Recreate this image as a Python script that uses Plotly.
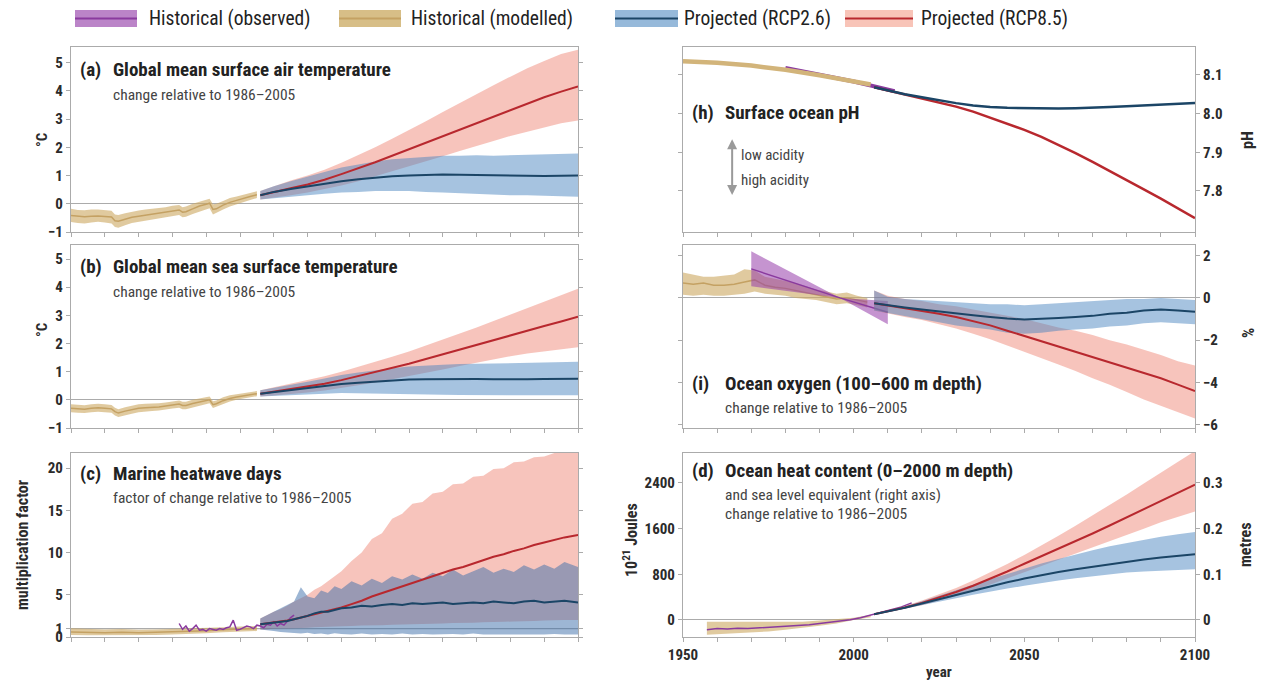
import plotly.graph_objects as go

# ---------------- data ----------------
HIST_YEARS = [1950, 1952, 1954, 1956, 1958, 1960, 1962, 1963, 1964, 1966, 1968, 1970, 1972, 1974, 1976, 1978,
              1980, 1982, 1983, 1984, 1986, 1988, 1990, 1991, 1992, 1993, 1995, 1997, 1999, 2001, 2003, 2005]
PROJ_YEARS = [2006, 2010, 2015, 2020, 2025, 2030, 2035, 2040, 2045, 2050,
              2055, 2060, 2065, 2070, 2075, 2080, 2085, 2090, 2095, 2100]

# (a) global mean surface air temperature (deg C)
A_HIST_MEAN = [-0.42, -0.45, -0.46, -0.44, -0.43, -0.45, -0.47, -0.60, -0.62, -0.55, -0.48, -0.44, -0.40, -0.37, -0.33, -0.30,
               -0.25, -0.22, -0.30, -0.28, -0.18, -0.08, -0.02, 0.02, -0.20, -0.18, -0.05, 0.05, 0.12, 0.20, 0.26, 0.32]
A_HIST_LOW = [-0.65, -0.68, -0.70, -0.66, -0.64, -0.66, -0.70, -0.82, -0.85, -0.76, -0.68, -0.64, -0.60, -0.56, -0.52, -0.48,
              -0.44, -0.40, -0.48, -0.46, -0.36, -0.26, -0.20, -0.16, -0.38, -0.34, -0.20, -0.10, -0.02, 0.06, 0.13, 0.20]
A_HIST_HIGH = [-0.18, -0.22, -0.23, -0.20, -0.20, -0.22, -0.25, -0.38, -0.40, -0.34, -0.28, -0.24, -0.20, -0.18, -0.14, -0.12,
               -0.07, -0.04, -0.12, -0.10, 0.00, 0.08, 0.15, 0.18, -0.02, 0.00, 0.10, 0.20, 0.26, 0.33, 0.38, 0.44]
A_26_MEAN = [0.30, 0.42, 0.52, 0.62, 0.72, 0.80, 0.87, 0.93, 0.97, 1.00, 1.02, 1.04, 1.03, 1.02, 1.00, 1.00, 0.99, 0.98, 0.99, 1.00]
A_26_LOW = [0.15, 0.20, 0.25, 0.30, 0.35, 0.40, 0.42, 0.45, 0.45, 0.45, 0.42, 0.40, 0.38, 0.35, 0.33, 0.30, 0.30, 0.28, 0.27, 0.25]
A_26_HIGH = [0.45, 0.62, 0.80, 0.95, 1.12, 1.28, 1.40, 1.50, 1.58, 1.62, 1.66, 1.70, 1.70, 1.72, 1.70, 1.72, 1.72, 1.75, 1.78, 1.78]
A_85_MEAN = [0.30, 0.42, 0.55, 0.68, 0.85, 1.05, 1.25, 1.47, 1.70, 1.93, 2.17, 2.40, 2.63, 2.87, 3.10, 3.33, 3.55, 3.77, 3.97, 4.15]
A_85_LOW = [0.15, 0.22, 0.30, 0.40, 0.52, 0.65, 0.80, 0.97, 1.15, 1.32, 1.50, 1.68, 1.87, 2.05, 2.22, 2.40, 2.55, 2.70, 2.85, 2.95]
A_85_HIGH = [0.45, 0.62, 0.82, 1.00, 1.20, 1.45, 1.72, 2.00, 2.30, 2.60, 2.92, 3.25, 3.57, 3.90, 4.20, 4.50, 4.80, 5.05, 5.30, 5.45]

# (b) global mean sea surface temperature (deg C)
B_HIST_MEAN = [-0.30, -0.32, -0.33, -0.30, -0.28, -0.30, -0.32, -0.42, -0.47, -0.40, -0.35, -0.30, -0.28, -0.27, -0.25, -0.22,
               -0.18, -0.15, -0.20, -0.20, -0.13, -0.07, -0.03, 0.00, -0.17, -0.14, -0.03, 0.05, 0.10, 0.14, 0.19, 0.22]
B_HIST_LOW = [-0.44, -0.46, -0.47, -0.44, -0.42, -0.44, -0.46, -0.56, -0.61, -0.54, -0.49, -0.44, -0.42, -0.40, -0.38, -0.35,
              -0.31, -0.28, -0.33, -0.33, -0.26, -0.19, -0.15, -0.12, -0.29, -0.26, -0.15, -0.06, 0.00, 0.04, 0.09, 0.13]
B_HIST_HIGH = [-0.16, -0.18, -0.19, -0.16, -0.14, -0.16, -0.18, -0.28, -0.33, -0.26, -0.21, -0.16, -0.14, -0.14, -0.12, -0.09,
               -0.05, -0.02, -0.07, -0.07, 0.00, 0.05, 0.09, 0.12, -0.05, -0.02, 0.09, 0.16, 0.20, 0.24, 0.29, 0.31]
B_26_MEAN = [0.22, 0.28, 0.35, 0.42, 0.50, 0.56, 0.61, 0.65, 0.69, 0.72, 0.73, 0.74, 0.74, 0.74, 0.73, 0.72, 0.73, 0.74, 0.74, 0.75]
B_26_LOW = [0.12, 0.14, 0.17, 0.20, 0.22, 0.24, 0.24, 0.24, 0.22, 0.20, 0.19, 0.18, 0.17, 0.16, 0.16, 0.15, 0.15, 0.15, 0.16, 0.16]
B_26_HIGH = [0.34, 0.42, 0.53, 0.64, 0.76, 0.88, 0.97, 1.05, 1.12, 1.18, 1.22, 1.25, 1.27, 1.28, 1.29, 1.30, 1.30, 1.31, 1.33, 1.35]
B_85_MEAN = [0.22, 0.29, 0.38, 0.47, 0.57, 0.70, 0.84, 0.98, 1.13, 1.28, 1.45, 1.62, 1.78, 1.95, 2.12, 2.30, 2.47, 2.62, 2.78, 2.95]
B_85_LOW = [0.12, 0.15, 0.20, 0.26, 0.33, 0.42, 0.52, 0.62, 0.73, 0.84, 0.96, 1.08, 1.20, 1.32, 1.44, 1.55, 1.65, 1.73, 1.80, 1.87]
B_85_HIGH = [0.34, 0.44, 0.57, 0.70, 0.84, 1.00, 1.17, 1.35, 1.53, 1.72, 1.93, 2.14, 2.35, 2.57, 2.80, 3.03, 3.27, 3.50, 3.72, 3.95]

# (c) marine heatwave days (multiplication factor)
C_HIST_YEARS = [1950, 1955, 1960, 1965, 1970, 1975, 1980, 1985, 1990, 1995, 2000, 2005]
C_HIST_MEAN = [0.60, 0.55, 0.50, 0.55, 0.50, 0.55, 0.60, 0.65, 0.75, 0.85, 0.95, 1.00]
C_HIST_LOW = [0.25, 0.22, 0.20, 0.25, 0.22, 0.25, 0.30, 0.35, 0.45, 0.55, 0.65, 0.70]
C_HIST_HIGH = [1.05, 0.95, 0.90, 0.95, 0.85, 0.90, 0.95, 1.00, 1.05, 1.15, 1.25, 1.30]
C_OBS_YEARS = [1982, 1983, 1984, 1985, 1986, 1987, 1988, 1989, 1990, 1991, 1992, 1993, 1994, 1995, 1996, 1997, 1998,
               1999, 2000, 2001, 2002, 2003, 2004, 2005, 2006, 2007, 2008, 2009, 2010, 2011, 2012, 2013, 2014, 2015, 2016]
C_OBS = [1.6, 0.9, 1.3, 0.7, 1.0, 1.4, 0.8, 0.9, 0.7, 1.0, 0.9, 0.8, 1.0, 0.9, 1.1, 1.2, 2.0,
         0.8, 0.9, 1.1, 1.3, 1.2, 1.0, 1.4, 1.3, 1.1, 1.5, 1.4, 1.8, 1.3, 1.6, 1.4, 1.9, 2.3, 2.6]
C_PROJ_YEARS = [2006, 2008, 2010, 2012, 2014, 2016, 2018, 2020, 2022, 2024, 2026, 2028, 2030, 2033, 2036, 2039, 2042, 2045,
                2048, 2051, 2054, 2057, 2060, 2063, 2066, 2069, 2072, 2075, 2078, 2081, 2084, 2087, 2090, 2093, 2096, 2100]
C_26_MEAN = [1.5, 1.6, 1.7, 1.8, 1.9, 2.1, 2.3, 2.5, 2.8, 3.0, 3.0, 3.2, 3.4, 3.5, 3.7, 3.6, 3.8, 3.9,
             3.8, 4.0, 3.9, 4.0, 4.1, 3.9, 4.0, 4.1, 4.0, 4.2, 4.1, 4.0, 4.2, 4.3, 4.1, 4.2, 4.3, 4.1]
C_26_LOW = [0.9, 0.8, 0.7, 0.6, 0.5, 0.45, 0.4, 0.5, 0.35, 0.4, 0.3, 0.45, 0.35, 0.3, 0.4, 0.3, 0.35, 0.3,
            0.4, 0.3, 0.35, 0.3, 0.3, 0.35, 0.3, 0.4, 0.3, 0.35, 0.3, 0.3, 0.35, 0.3, 0.3, 0.35, 0.3, 0.3]
C_26_HIGH = [2.2, 2.6, 3.0, 3.4, 3.8, 4.2, 5.9, 4.8, 4.6, 5.5, 5.2, 6.0, 5.7, 6.6, 6.1, 6.9, 6.4, 7.2,
             6.8, 7.4, 6.9, 7.6, 7.2, 8.0, 7.3, 7.8, 8.3, 7.6, 8.1, 7.7, 8.5, 8.0, 8.6, 8.1, 8.9, 8.3]
C_85_MEAN = [1.5, 1.6, 1.7, 1.8, 1.95, 2.1, 2.3, 2.5, 2.7, 2.9, 3.1, 3.3, 3.5, 3.9, 4.3, 4.8, 5.2, 5.6,
             6.0, 6.4, 6.8, 7.2, 7.6, 8.0, 8.3, 8.7, 9.1, 9.5, 9.8, 10.2, 10.5, 10.9, 11.2, 11.5, 11.8, 12.1]
C_85_LOW = [0.9, 0.9, 1.0, 1.0, 1.0, 1.05, 1.1, 1.1, 1.15, 1.2, 1.2, 1.25, 1.3, 1.3, 1.35, 1.4, 1.4, 1.45,
            1.5, 1.5, 1.55, 1.6, 1.6, 1.65, 1.7, 1.7, 1.75, 1.8, 1.8, 1.85, 1.9, 1.9, 1.95, 2.0, 2.0, 2.0]
C_85_HIGH = [2.2, 2.6, 3.0, 3.3, 3.7, 4.2, 4.6, 5.0, 5.6, 6.0, 6.6, 7.2, 7.8, 9.0, 10.0, 11.6, 12.3, 14.0,
             14.6, 15.8, 16.0, 17.0, 17.2, 18.1, 18.2, 19.0, 19.1, 19.9, 20.0, 20.7, 20.8, 21.3, 21.4, 21.8, 21.9, 22.2]
C_BASELINE = 1

# (h) surface ocean pH
H_HIST_YEARS = [1950, 1960, 1970, 1980, 1990, 2000, 2005]
H_HIST = [8.135, 8.131, 8.124, 8.113, 8.099, 8.083, 8.075]
H_OBS_YEARS = [1980, 1990, 2000, 2012]
H_OBS = [8.118, 8.101, 8.083, 8.058]
H_26 = [8.068, 8.060, 8.050, 8.042, 8.034, 8.027, 8.021, 8.017, 8.015, 8.014,
        8.013, 8.013, 8.014, 8.015, 8.017, 8.019, 8.021, 8.023, 8.025, 8.027]
H_85 = [8.068, 8.060, 8.050, 8.040, 8.030, 8.018, 8.005, 7.990, 7.975, 7.958,
        7.940, 7.920, 7.898, 7.875, 7.852, 7.828, 7.804, 7.780, 7.755, 7.730]

# (i) ocean oxygen 100-600 m (%)
I_HIST_YEARS = [1950, 1953, 1956, 1959, 1962, 1965, 1968, 1971, 1974, 1977, 1980, 1983, 1986, 1989, 1992, 1995, 1998, 2001, 2004]
I_HIST_MEAN = [0.70, 0.65, 0.70, 0.60, 0.60, 0.65, 0.75, 0.85, 0.60, 0.50, 0.45, 0.35, 0.25, 0.15, 0.05, -0.05, 0.00, -0.10, -0.20]
I_HIST_LOW = [0.15, 0.10, 0.15, 0.10, 0.10, 0.15, 0.20, 0.30, 0.20, 0.15, 0.10, 0.00, -0.05, -0.10, -0.20, -0.30, -0.25, -0.35, -0.45]
I_HIST_HIGH = [1.20, 1.10, 1.00, 1.00, 1.05, 1.10, 1.35, 1.30, 1.00, 0.90, 0.80, 0.70, 0.55, 0.40, 0.30, 0.20, 0.25, 0.10, 0.00]
I_OBS_YEARS = [1970, 1996, 2010]
I_OBS = [1.37, 0.00, -0.68]
I_OBS_LOW = [0.55, 0.00, -1.25]
I_OBS_HIGH = [2.20, 0.00, -0.15]
I_26_MEAN = [-0.25, -0.35, -0.45, -0.55, -0.65, -0.75, -0.82, -0.90, -0.98, -1.02,
             -1.00, -0.95, -0.90, -0.85, -0.75, -0.70, -0.60, -0.55, -0.60, -0.65]
I_26_LOW = [-0.60, -0.70, -0.85, -1.00, -1.15, -1.30, -1.40, -1.50, -1.65, -1.70,
            -1.65, -1.55, -1.50, -1.45, -1.35, -1.30, -1.20, -1.15, -1.20, -1.25]
I_26_HIGH = [0.35, 0.05, -0.05, -0.10, -0.15, -0.20, -0.25, -0.30, -0.30, -0.35,
             -0.30, -0.25, -0.20, -0.15, -0.10, -0.05, -0.05, 0.00, -0.05, -0.10]
I_85_MEAN = [-0.25, -0.35, -0.50, -0.62, -0.75, -0.90, -1.10, -1.30, -1.55, -1.80,
             -2.05, -2.30, -2.55, -2.80, -3.05, -3.30, -3.55, -3.80, -4.10, -4.40]
I_85_LOW = [-0.60, -0.75, -0.90, -1.05, -1.25, -1.45, -1.70, -1.95, -2.25, -2.55,
            -2.85, -3.15, -3.45, -3.80, -4.10, -4.45, -4.80, -5.10, -5.40, -5.70]
I_85_HIGH = [0.35, 0.10, -0.05, -0.15, -0.30, -0.40, -0.55, -0.70, -0.85, -1.00,
             -1.20, -1.40, -1.55, -1.75, -2.00, -2.20, -2.45, -2.70, -3.00, -3.20]

# (d) ocean heat content 0-2000 m (10^21 J)
D_HIST_YEARS = [1957, 1960, 1965, 1970, 1975, 1980, 1985, 1990, 1995, 2000, 2005]
D_HIST_MEAN = [-150, -140, -140, -130, -115, -100, -80, -50, -20, 20, 70]
D_HIST_LOW = [-260, -250, -240, -220, -200, -170, -140, -100, -60, 0, 50]
D_HIST_HIGH = [-30, -30, -40, -40, -40, -40, -30, -10, 10, 40, 90]
D_OBS_YEARS = [1957, 1960, 1963, 1966, 1969, 1972, 1975, 1978, 1981, 1984, 1987, 1990, 1993, 1996, 1999, 2002,
               2005, 2008, 2011, 2014, 2017]
D_OBS = [-170, -150, -160, -145, -150, -140, -130, -125, -110, -95, -85, -60, -40, -25, 5, 40, 90, 130, 180, 230, 300]
D_26_MEAN = [100, 150, 215, 290, 365, 440, 515, 590, 660, 725, 785, 840, 890, 935, 980, 1020, 1060, 1095, 1125, 1150]
D_26_LOW = [90, 135, 195, 255, 320, 380, 440, 500, 550, 600, 650, 690, 730, 770, 800, 830, 850, 870, 880, 890]
D_26_HIGH = [110, 165, 240, 330, 420, 520, 620, 715, 810, 900, 990, 1070, 1150, 1220, 1290, 1350, 1410, 1460, 1500, 1540]
D_85_MEAN = [100, 150, 220, 300, 390, 490, 600, 720, 850, 985, 1115, 1245, 1380, 1515, 1655, 1800, 1945, 2090, 2230, 2370]
D_85_LOW = [90, 135, 195, 260, 335, 420, 510, 610, 720, 830, 940, 1050, 1160, 1270, 1380, 1490, 1600, 1710, 1810, 1900]
D_85_HIGH = [110, 165, 245, 340, 445, 560, 690, 830, 980, 1140, 1305, 1475, 1650, 1830, 2015, 2200, 2390, 2580, 2770, 2960]
ZJ_PER_METRE = 8000  # 800 x 10^21 J <-> 0.1 m sea level equivalent
METRE_TICKS = [0, 0.1, 0.2, 0.3]

LEGEND_LABELS = ["Historical (observed)", "Historical (modelled)", "Projected (RCP2.6)", "Projected (RCP8.5)"]

# ---------------- styles ----------------
W, H = 1269, 680
FONT = "Liberation Sans Narrow, Arial Narrow, Roboto Condensed, Liberation Sans, sans-serif"
TXT = "#2b2b2b"
FRAME = "#ababab"

TAN_BAND = "rgba(205,170,100,0.62)"
TAN_LINE = "#c4a163"
PUR_BAND = "rgba(150,60,170,0.55)"
PUR_LINE = "#8a3a9e"
BLUE_BAND = "rgba(70,130,190,0.48)"
BLUE_LINE = "#1b4566"
RED_BAND = "rgba(235,100,80,0.38)"
RED_LINE = "#b8282e"

LX = [71 / W, 578 / W]
RX = [683 / W, 1195 / W]
ROW1 = [1 - 232 / H, 1 - 47 / H]
ROW2 = [1 - 428 / H, 1 - 245 / H]
ROW3 = [1 - 637 / H, 1 - 453 / H]

fig = go.Figure()


def band(xs, lo, hi, color, xa, ya):
    fig.add_trace(go.Scatter(x=list(xs) + list(xs)[::-1], y=list(hi) + list(lo)[::-1],
                             fill="toself", fillcolor=color, mode="lines", line=dict(width=0),
                             hoverinfo="skip", showlegend=False, xaxis=xa, yaxis=ya))


def line(xs, ys, color, width, xa, ya):
    fig.add_trace(go.Scatter(x=xs, y=ys, mode="lines", line=dict(color=color, width=width),
                             hoverinfo="skip", showlegend=False, xaxis=xa, yaxis=ya))


# (a)
band(HIST_YEARS, A_HIST_LOW, A_HIST_HIGH, TAN_BAND, "x", "y")
line(HIST_YEARS, A_HIST_MEAN, TAN_LINE, 1.5, "x", "y")
band(PROJ_YEARS, A_85_LOW, A_85_HIGH, RED_BAND, "x", "y")
band(PROJ_YEARS, A_26_LOW, A_26_HIGH, BLUE_BAND, "x", "y")
line(PROJ_YEARS, A_85_MEAN, RED_LINE, 2, "x", "y")
line(PROJ_YEARS, A_26_MEAN, BLUE_LINE, 2, "x", "y")

# (h)
line(H_OBS_YEARS, H_OBS, PUR_LINE, 4, "x2", "y2")
line(H_HIST_YEARS, H_HIST, "#d2b47a", 4.5, "x2", "y2")
line(PROJ_YEARS, H_85, RED_LINE, 2.5, "x2", "y2")
line(PROJ_YEARS, H_26, BLUE_LINE, 2.5, "x2", "y2")

# (b)
band(HIST_YEARS, B_HIST_LOW, B_HIST_HIGH, TAN_BAND, "x3", "y3")
line(HIST_YEARS, B_HIST_MEAN, TAN_LINE, 1.5, "x3", "y3")
band(PROJ_YEARS, B_85_LOW, B_85_HIGH, RED_BAND, "x3", "y3")
band(PROJ_YEARS, B_26_LOW, B_26_HIGH, BLUE_BAND, "x3", "y3")
line(PROJ_YEARS, B_85_MEAN, RED_LINE, 2, "x3", "y3")
line(PROJ_YEARS, B_26_MEAN, BLUE_LINE, 2, "x3", "y3")

# (i)
band(I_HIST_YEARS, I_HIST_LOW, I_HIST_HIGH, TAN_BAND, "x4", "y4")
line(I_HIST_YEARS, I_HIST_MEAN, TAN_LINE, 1.5, "x4", "y4")
band(I_OBS_YEARS, I_OBS_LOW, I_OBS_HIGH, PUR_BAND, "x4", "y4")
line(I_OBS_YEARS, I_OBS, PUR_LINE, 1.5, "x4", "y4")
band(PROJ_YEARS, I_85_LOW, I_85_HIGH, RED_BAND, "x4", "y4")
band(PROJ_YEARS, I_26_LOW, I_26_HIGH, BLUE_BAND, "x4", "y4")
line(PROJ_YEARS, I_85_MEAN, RED_LINE, 2, "x4", "y4")
line(PROJ_YEARS, I_26_MEAN, BLUE_LINE, 2, "x4", "y4")

# (c)
band(C_HIST_YEARS, C_HIST_LOW, C_HIST_HIGH, TAN_BAND, "x5", "y5")
line(C_HIST_YEARS, C_HIST_MEAN, TAN_LINE, 1.5, "x5", "y5")
band(C_PROJ_YEARS, C_85_LOW, C_85_HIGH, RED_BAND, "x5", "y5")
band(C_PROJ_YEARS, C_26_LOW, C_26_HIGH, "rgba(60,110,170,0.5)", "x5", "y5")
line(C_OBS_YEARS, C_OBS, PUR_LINE, 1.5, "x5", "y5")
line(C_PROJ_YEARS, C_85_MEAN, RED_LINE, 2, "x5", "y5")
line(C_PROJ_YEARS, C_26_MEAN, BLUE_LINE, 2, "x5", "y5")

# (d)
band(D_HIST_YEARS, D_HIST_LOW, D_HIST_HIGH, TAN_BAND, "x6", "y6")
line(D_OBS_YEARS, D_OBS, PUR_LINE, 1.5, "x6", "y6")
band(PROJ_YEARS, D_85_LOW, D_85_HIGH, RED_BAND, "x6", "y6")
band(PROJ_YEARS, D_26_LOW, D_26_HIGH, BLUE_BAND, "x6", "y6")
line(PROJ_YEARS, D_85_MEAN, RED_LINE, 2, "x6", "y6")
line(PROJ_YEARS, D_26_MEAN, BLUE_LINE, 2, "x6", "y6")
# invisible carrier so the sea-level (metres) axis is drawn
fig.add_trace(go.Scatter(x=[PROJ_YEARS[0]], y=[METRE_TICKS[0]], mode="markers", marker=dict(opacity=0),
                         hoverinfo="skip", showlegend=False, xaxis="x6", yaxis="y7"))

# ---------------- axes ----------------
tickfont = dict(family=FONT, size=15, color=TXT, weight="bold")


def xaxis(domain, anchor, labels=False):
    d = dict(domain=domain, anchor=anchor, range=[1950, 2100], showline=True, linecolor=FRAME, linewidth=1.2,
             mirror=True, ticks="outside", ticklen=4, tickcolor=FRAME, tickwidth=1, showgrid=False,
             zeroline=False, tickfont=tickfont, fixedrange=True, automargin=False)
    if labels:
        d.update(tickvals=[1950, 2000, 2050, 2100], showticklabels=True,
                 minor=dict(dtick=10, tick0=1950, ticks="outside", ticklen=4, tickcolor=FRAME))
    else:
        d.update(dtick=10, tick0=1950, showticklabels=False)
    return d


def yaxis(domain, anchor, rng, tickvals, side="left", zeroline=True, fmt=None, mirror="ticks"):
    d = dict(domain=domain, anchor=anchor, range=rng, side=side, showline=True, linecolor=FRAME, linewidth=1.2,
             mirror=mirror, ticks="outside", ticklen=4, tickcolor=FRAME, tickwidth=1, showgrid=False,
             tickvals=tickvals, zeroline=zeroline, zerolinecolor=FRAME, zerolinewidth=1.2,
             tickfont=tickfont, fixedrange=True, automargin=False)
    if fmt:
        d["tickformat"] = fmt
    return d


D_RANGE = [-298, 2925]

fig.update_layout(
    width=W, height=H, autosize=False, margin=dict(l=0, r=0, t=0, b=0, pad=0),
    paper_bgcolor="white", plot_bgcolor="white", showlegend=False,
    font=dict(family=FONT, color=TXT),
    xaxis=xaxis(LX, "y"), yaxis=yaxis(ROW1, "x", [-1, 5.55], [-1, 0, 1, 2, 3, 4, 5]),
    xaxis2=xaxis(RX, "y2"), yaxis2=yaxis(ROW1, "x2", [7.694, 8.172], [7.8, 7.9, 8.0, 8.1], side="right",
                                          zeroline=False, fmt=".1f"),
    xaxis3=xaxis(LX, "y3"), yaxis3=yaxis(ROW2, "x3", [-1, 5.5], [-1, 0, 1, 2, 3, 4, 5]),
    xaxis4=xaxis(RX, "y4"), yaxis4=yaxis(ROW2, "x4", [-6.15, 2.5], [-6, -4, -2, 0, 2], side="right"),
    xaxis5=xaxis(LX, "y5"), yaxis5=yaxis(ROW3, "x5", [0, 21.8], [0, 1, 5, 10, 15, 20], zeroline=False),
    xaxis6=xaxis(RX, "y6", labels=True),
    yaxis6=yaxis(ROW3, "x6", D_RANGE, [0, 800, 1600, 2400], mirror=True),
    yaxis7=dict(domain=ROW3, anchor="x6", overlaying="y6", side="right",
                range=[D_RANGE[0] / ZJ_PER_METRE, D_RANGE[1] / ZJ_PER_METRE],
                tickvals=METRE_TICKS, ticks="outside", ticklen=4, tickcolor=FRAME,
                showline=False, showgrid=False, zeroline=False, tickfont=tickfont, fixedrange=True,
                automargin=False),
)

# reference line at factor 1 in (c)
fig.add_shape(type="line", xref="x5 domain", yref="y5", x0=0, x1=1, y0=C_BASELINE, y1=C_BASELINE,
              line=dict(color=FRAME, width=1.2), layer="below")


# ---------------- text ----------------
def px_ann(text, x, y, size, bold=False, color=TXT, angle=0, xanchor="left"):
    fig.add_annotation(text=text, x=x / W, y=1 - y / H, xref="paper", yref="paper", showarrow=False,
                       xanchor=xanchor, yanchor="middle", textangle=angle, borderpad=0,
                       font=dict(family=FONT, size=size, color=color, weight="bold" if bold else "normal"))


TITLES = [
    ("(a)", "Global mean surface air temperature", ["change relative to 1986–2005"], 79, 70),
    ("(b)", "Global mean sea surface temperature", ["change relative to 1986–2005"], 79, 267),
    ("(c)", "Marine heatwave days", ["factor of change relative to 1986–2005"], 79, 473),
    ("(h)", "Surface ocean pH", [], 691, 113),
    ("(i)", "Ocean oxygen (100–600 m depth)", ["change relative to 1986–2005"], 691, 383),
    ("(d)", "Ocean heat content (0–2000 m depth)",
     ["and sea level equivalent (right axis)", "change relative to 1986–2005"], 691, 470),
]
for tag, title, subs, x, y in TITLES:
    px_ann(tag, x, y, 19, bold=True, color="#222")
    px_ann(title, x + 33, y, 19, bold=True, color="#222")
    for k, s in enumerate(subs):
        px_ann(s, x + 33, y + 25 + 19 * k, 15.5, color="#444")

# axis titles
px_ann("°C", 42, 140, 15, bold=True, angle=-90, xanchor="center")
px_ann("°C", 42, 330, 15, bold=True, angle=-90, xanchor="center")
px_ann("multiplication factor", 22, 545, 16, bold=True, angle=-90, xanchor="center")
px_ann("10<sup>21</sup> Joules", 630, 540, 16, bold=True, angle=-90, xanchor="center")
px_ann("pH", 1248, 140, 16, bold=True, angle=-90, xanchor="center")
px_ann("%", 1248, 333, 16, bold=True, angle=-90, xanchor="center")
px_ann("metres", 1245, 545, 16, bold=True, angle=-90, xanchor="center")
px_ann("year", 939, 672, 15, bold=True, xanchor="center")

# acidity arrow in (h)
fig.add_annotation(x=0.096, y=0.2, ax=0.096, ay=0.51, xref="x2 domain", yref="y2 domain",
                   axref="x2 domain", ayref="y2 domain", text="", showarrow=True,
                   arrowhead=2, startarrowhead=2, arrowside="end+start", arrowsize=1,
                   arrowwidth=2, arrowcolor="#9a9a9a")
px_ann("low acidity", 740, 155, 15, color="#444")
px_ann("high acidity", 740, 180, 15, color="#444")

# ---------------- legend ----------------
LEG_BANDS = ["rgba(175,110,190,0.85)", "rgba(215,190,135,1)", "rgba(150,185,218,1)", "rgba(248,196,184,1)"]
LEG_LINES = [PUR_LINE, "#c4a163", BLUE_LINE, RED_LINE]
LEG_X = [(75, 137, 148), (339, 401, 410), (615, 678, 683), (845, 913, 920)]
for label, bcol, lcol, (x0, x1, tx) in zip(LEGEND_LABELS, LEG_BANDS, LEG_LINES, LEG_X):
    fig.add_shape(type="rect", xref="paper", yref="paper", x0=x0 / W, x1=x1 / W, y0=1 - 27 / H, y1=1 - 10 / H,
                  fillcolor=bcol, line=dict(width=0))
    fig.add_shape(type="line", xref="paper", yref="paper", x0=x0 / W, x1=x1 / W, y0=1 - 18.5 / H, y1=1 - 18.5 / H,
                  line=dict(color=lcol, width=2))
    px_ann(label, tx, 18, 19.5, color="#222")

fig.write_html("out.html")
